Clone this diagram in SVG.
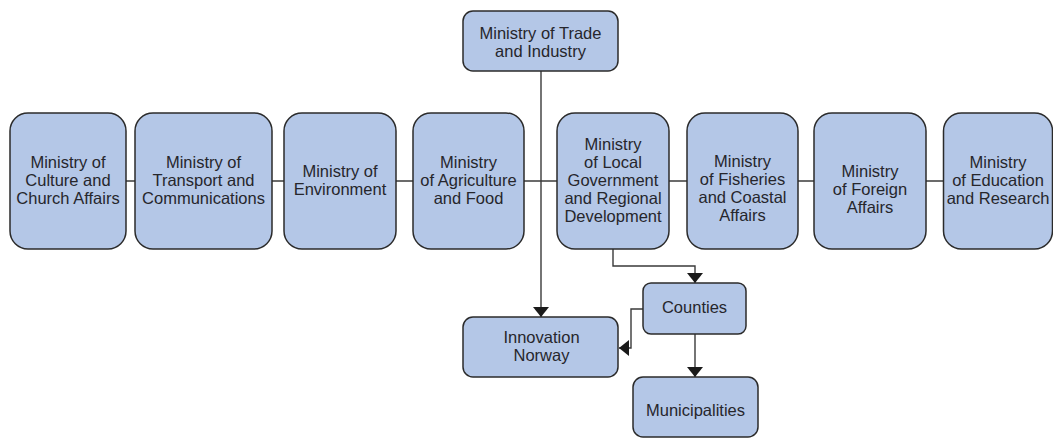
<svg xmlns="http://www.w3.org/2000/svg" width="1053" height="439" viewBox="0 0 1053 439">
<defs>
<style>
.n{fill:#b4c7e7;stroke:#2b2b2b;stroke-width:1.5}
.t{font-family:"Liberation Sans",Arial,sans-serif;font-size:16.5px;fill:#26262c;text-anchor:middle}
.c{fill:none;stroke:#3a3a3a;stroke-width:1.4}
</style>
<marker id="ah" markerUnits="userSpaceOnUse" markerWidth="10" markerHeight="16" refX="10" refY="8" orient="auto" viewBox="0 0 10 16">
<path d="M0,0 L10,8 L0,16 Z" fill="#1a1a1a"/>
</marker>
</defs>
<rect width="1053" height="439" fill="#ffffff"/>
<g id="connectors">
<line class="c" x1="126" y1="181" x2="943" y2="181"/>
<line class="c" x1="541" y1="71" x2="541" y2="317" marker-end="url(#ah)"/>
<polyline class="c" points="613,249 613,266 695,266 695,283" marker-end="url(#ah)"/>
<line class="c" x1="695" y1="334" x2="695" y2="377" marker-end="url(#ah)"/>
<polyline class="c" points="643,309 631,309 631,348 619,348" marker-end="url(#ah)"/>
</g>
<g id="trade">
<rect class="n" x="463" y="11" width="155" height="60" rx="10"/>
<text class="t" x="540.5" y="39">Ministry of Trade</text>
<text class="t" x="540.5" y="57">and Industry</text>
</g>
<g id="culture">
<rect class="n" x="10" y="113" width="116" height="136" rx="18"/>
<text class="t" x="68" y="168">Ministry of</text>
<text class="t" x="68" y="186">Culture and</text>
<text class="t" x="68" y="204">Church Affairs</text>
</g>
<g id="transport">
<rect class="n" x="135" y="113" width="137" height="136" rx="18"/>
<text class="t" x="203.5" y="168">Ministry of</text>
<text class="t" x="203.5" y="186">Transport and</text>
<text class="t" x="203.5" y="204">Communications</text>
</g>
<g id="environment">
<rect class="n" x="284" y="113" width="112" height="136" rx="18"/>
<text class="t" x="340" y="177">Ministry of</text>
<text class="t" x="340" y="195">Environment</text>
</g>
<g id="agriculture">
<rect class="n" x="413" y="113" width="111" height="136" rx="18"/>
<text class="t" x="468.5" y="168">Ministry</text>
<text class="t" x="468.5" y="186">of Agriculture</text>
<text class="t" x="468.5" y="204">and Food</text>
</g>
<g id="local">
<rect class="n" x="557" y="113" width="112" height="136" rx="18"/>
<text class="t" x="613" y="150">Ministry</text>
<text class="t" x="613" y="168">of Local</text>
<text class="t" x="613" y="186">Government</text>
<text class="t" x="613" y="204">and Regional</text>
<text class="t" x="613" y="222">Development</text>
</g>
<g id="fisheries">
<rect class="n" x="687" y="113" width="111" height="136" rx="18"/>
<text class="t" x="742.5" y="167">Ministry</text>
<text class="t" x="742.5" y="185">of Fisheries</text>
<text class="t" x="742.5" y="203">and Coastal</text>
<text class="t" x="742.5" y="221">Affairs</text>
</g>
<g id="foreign">
<rect class="n" x="814" y="113" width="112" height="136" rx="18"/>
<text class="t" x="870" y="177">Ministry</text>
<text class="t" x="870" y="195">of Foreign</text>
<text class="t" x="870" y="213">Affairs</text>
</g>
<g id="education">
<rect class="n" x="943.5" y="113" width="109" height="136" rx="18"/>
<text class="t" x="998" y="168">Ministry</text>
<text class="t" x="998" y="186">of Education</text>
<text class="t" x="998" y="204">and Research</text>
</g>
<g id="innovation">
<rect class="n" x="463" y="317" width="155" height="60" rx="10"/>
<text class="t" x="541.5" y="343">Innovation</text>
<text class="t" x="541.5" y="361">Norway</text>
</g>
<g id="counties">
<rect class="n" x="643" y="283" width="103" height="51" rx="8"/>
<text class="t" x="694.5" y="313">Counties</text>
</g>
<g id="municipalities">
<rect class="n" x="633" y="377" width="125" height="60" rx="10"/>
<text class="t" x="695.5" y="416">Municipalities</text>
</g>
</svg>
